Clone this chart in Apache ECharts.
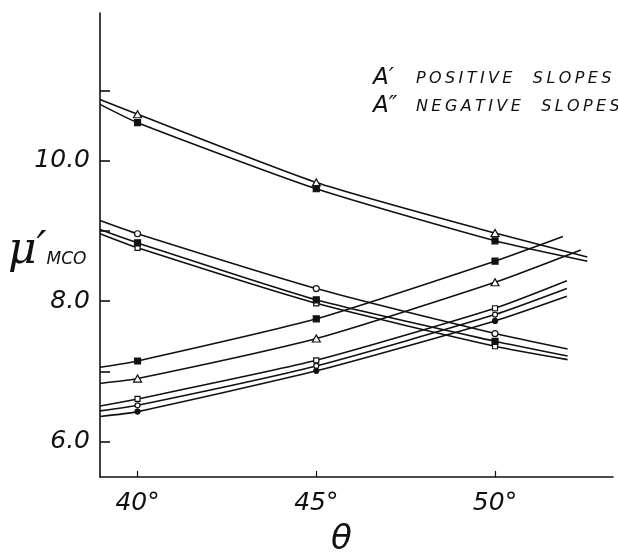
<!DOCTYPE html>
<html>
<head>
<meta charset="utf-8">
<script src="https://cdn.jsdelivr.net/npm/echarts@6/dist/echarts.min.js"></script>
<style>
html,body{margin:0;padding:0;background:#fff;}
#chart{width:618px;height:556px;}
</style>
</head>
<body>
<div id="chart"></div>
<script>
// theta values (degrees) of each curve: start of curve, marked points, end of curve
const thetaStart = 38.95;
const thetaMarked = [40, 45, 50];
const yTicks = [6, 7, 8, 9, 10, 11];
const yLabels = [6, 8, 10];
const xLabels = [40, 45, 50];

// Upper pair (decreasing)
const upTriangle = [10.87, 10.66, 9.69, 8.97, 8.63];
const upFilled   = [10.80, 10.54, 9.60, 8.86, 8.57];
const upEnd = 52.58;
// Middle triple (decreasing)
const midCircle = [9.15, 8.96, 8.18, 7.54, 7.32];
const midFilled = [9.02, 8.83, 8.02, 7.43, 7.22];
const midSquare = [8.96, 8.76, 7.97, 7.36, 7.17];
const midEnd = 52.03;
// Increasing group
const incFilledSq = [7.06, 7.15, 7.75, 8.57, 8.92];
const incFilledSqEnd = 51.9;
const incTriangle = [6.83, 6.90, 7.47, 8.27, 8.73];
const incTriangleEnd = 52.4;
const incSquare = [6.51, 6.61, 7.16, 7.90, 8.29];
const incCircle = [6.44, 6.52, 7.08, 7.81, 8.18];
const incFilledCircle = [6.36, 6.43, 7.01, 7.72, 8.07];
const incEnd = 52.01;

const legendLines = [
  ['A′', 'POSITIVE', 'SLOPES'],
  ['A″', 'NEGATIVE', 'SLOPES']
];

const triPath = 'path://M5,0 L10,9 L0,9 Z';

function build(name, vals, endTheta, symbol, filled, size) {
  const xs = [thetaStart].concat(thetaMarked, [endTheta]);
  const data = vals.map((v, i) => {
    const item = { value: [xs[i], v] };
    if (i === 0 || i === vals.length - 1) item.symbol = 'none';
    return item;
  });
  return {
    name: name,
    type: 'line',
    data: data,
    smooth: 0.2,
    symbol: symbol,
    symbolSize: size,
    showAllSymbol: true,
    lineStyle: { color: '#111', width: 1.6 },
    itemStyle: { color: filled ? '#111' : '#fff', borderColor: '#111', borderWidth: 1.2 },
    emphasis: { disabled: true },
    z: filled ? 3 : 2
  };
}

const series = [
  build('upTriangle', upTriangle, upEnd, triPath, false, [8, 7]),
  build('upFilled', upFilled, upEnd, 'rect', true, 6),
  build('midCircle', midCircle, midEnd, 'circle', false, 6),
  build('midFilled', midFilled, midEnd, 'rect', true, 6),
  build('midSquare', midSquare, midEnd, 'rect', false, 5),
  build('incFilledSq', incFilledSq, incFilledSqEnd, 'rect', true, 6),
  build('incTriangle', incTriangle, incTriangleEnd, triPath, false, [8, 7]),
  build('incSquare', incSquare, incEnd, 'rect', false, 5),
  build('incCircle', incCircle, incEnd, 'circle', false, 5),
  build('incFilledCircle', incFilledCircle, incEnd, 'circle', true, 5)
];

function spaced(word) {
  return word.split('').map(c => '{t|' + c + '}').join('');
}
const legendRich = {
  a: { fontSize: 23, fontStyle: 'italic', fontFamily: 'DejaVu Sans', fontWeight: 'lighter', fill: '#111', width: 43 },
  t: { fontSize: 16, fontStyle: 'italic', fontFamily: 'DejaVu Sans', fontWeight: 'lighter', fill: '#111', padding: [0, 3.4, 0, 0] },
  g: { fontSize: 16, width: 17 }
};
const legendGraphics = legendLines.map((ln, i) => ({
  type: 'text',
  left: 373,
  top: 67 + i * 28,
  style: {
    text: '{a|' + ln[0] + '}' + spaced(ln[1]) + '{g| }' + spaced(ln[2]),
    rich: legendRich
  }
}));

const chart = echarts.init(document.getElementById('chart'), null, { renderer: 'canvas' });
chart.setOption({
  animation: false,
  backgroundColor: '#fff',
  grid: { left: 100, right: 5, top: 13, bottom: 79, containLabel: false, outerBoundsMode: 'none' },
  xAxis: {
    type: 'value',
    min: 38.95,
    max: 53.3,
    splitLine: { show: false },
    axisLine: { lineStyle: { color: '#111', width: 1.6 } },
    axisTick: { show: true, inside: true, length: 6, customValues: xLabels, lineStyle: { color: '#111', width: 1.2 } },
    axisLabel: {
      customValues: xLabels,
      formatter: v => v + '°',
      margin: 14,
      color: '#111',
      fontFamily: 'DejaVu Sans',
      fontStyle: 'italic',
      fontWeight: 'lighter',
      fontSize: 25
    },
    name: 'θ',
    nameLocation: 'middle',
    nameGap: 46,
    nameTextStyle: { color: '#111', fontFamily: 'DejaVu Sans', fontStyle: 'italic', fontSize: 34, fontWeight: 'lighter', padding: [0, 30, 0, 0] }
  },
  yAxis: {
    type: 'value',
    min: 5.5,
    max: 12.1,
    splitLine: { show: false },
    axisLine: { lineStyle: { color: '#111', width: 1.6 } },
    axisTick: { show: true, inside: true, length: 10, customValues: yTicks, lineStyle: { color: '#111', width: 1.6 } },
    axisLabel: {
      customValues: yLabels,
      formatter: v => v.toFixed(1),
      margin: 10,
      color: '#111',
      fontFamily: 'DejaVu Sans',
      fontStyle: 'italic',
      fontWeight: 'lighter',
      fontSize: 25
    }
  },
  graphic: [
    {
      type: 'text',
      left: 8,
      top: 230,
      style: {
        text: '{mu|μ′}{sub|MCO}',
        rich: {
          mu: { fontSize: 44, fontStyle: 'italic', fontFamily: 'DejaVu Serif', fill: '#111', verticalAlign: 'bottom' },
          sub: { fontSize: 17, fontStyle: 'italic', fontFamily: 'DejaVu Sans', fill: '#111', padding: [16, 0, 0, 0] }
        }
      }
    }
  ].concat(legendGraphics),
  series: series
});
</script>
</body>
</html>
